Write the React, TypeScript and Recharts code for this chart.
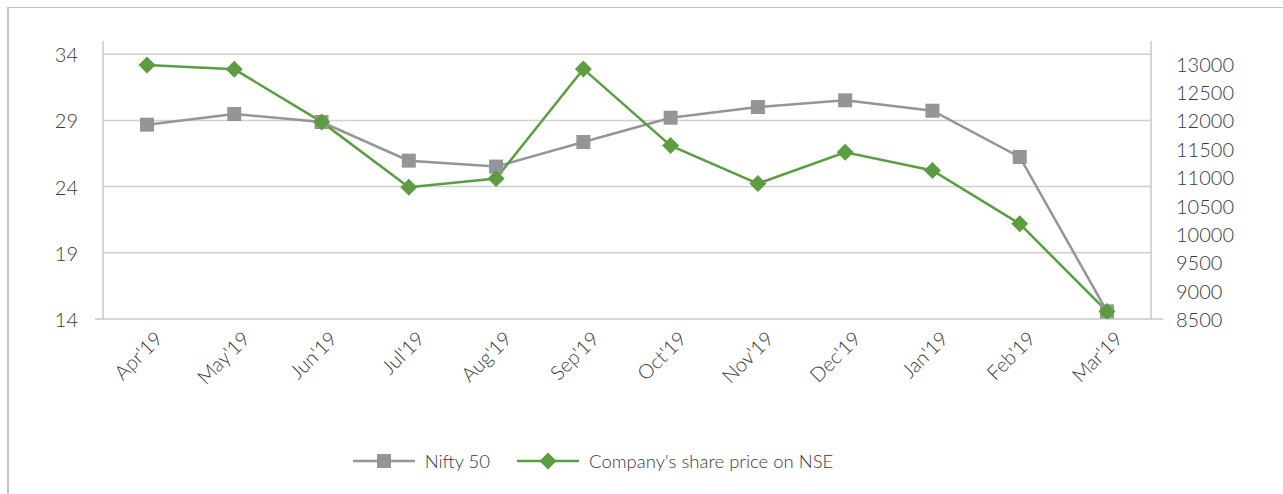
import React from 'react';
import { LineChart, Line, XAxis, YAxis, ReferenceLine, Legend } from 'recharts';

const months = ["Apr'19", "May'19", "Jun'19", "Jul'19", "Aug'19", "Sep'19", "Oct'19", "Nov'19", "Dec'19", "Jan'19", "Feb'19", "Mar'19"];
const nifty50 = [11925, 12113, 11972, 11291, 11186, 11620, 12048, 12236, 12354, 12171, 11356, 8634];
const sharePrice = [33.19, 32.87, 28.89, 23.96, 24.61, 32.89, 27.1, 24.23, 26.6, 25.22, 21.19, 14.57];
const leftTicks = [14, 19, 24, 29, 34];
const rightTicks = [8500, 9000, 9500, 10000, 10500, 11000, 11500, 12000, 12500, 13000];

const data = months.map((month, i) => ({ month, nifty: nifty50[i], price: sharePrice[i] }));

const GRAY = '#939598';
const GREEN = '#5b9d40';
const AXIS = '#c9c9c9';
const TEXT = '#3a3a3a';
const FONT = 'Lato, "Open Sans", sans-serif';

const SquareDot = (props: any) => {
  const { cx, cy } = props;
  if (cx == null || cy == null) return null;
  return <rect x={cx - 7} y={cy - 7} width={14} height={14} fill={GRAY} />;
};

const DiamondDot = (props: any) => {
  const { cx, cy } = props;
  if (cx == null || cy == null) return null;
  const r = 8.5;
  return <path d={`M${cx},${cy - r}L${cx + r},${cy}L${cx},${cy + r}L${cx - r},${cy}Z`} fill={GREEN} />;
};

const MonthTick = (props: any) => {
  const { x, y, payload } = props;
  return (
    <text
      x={x + 17}
      y={y + 21}
      textAnchor="end"
      transform={`rotate(-45 ${x + 17} ${y + 21})`}
      fill={TEXT}
      fontSize={20}
      fontWeight={300}
      fontFamily={FONT}
    >
      {payload.value}
    </text>
  );
};

const LeftTick = (props: any) => {
  const { x, y, payload } = props;
  return (
    <g>
      {payload.value === 14 && <line x1={x + 17} x2={x + 25} y1={y} y2={y} stroke={AXIS} strokeWidth={1.5} />}
      <text x={x} y={y} dy={8} textAnchor="end" fill={TEXT} fontSize={20} fontWeight={300} fontFamily={FONT}>
        {payload.value}
      </text>
    </g>
  );
};

const RightTick = (props: any) => {
  const { x, y, payload } = props;
  return (
    <g>
      {payload.value === 8500 && <line x1={x - 25} x2={x - 13} y1={y} y2={y} stroke={AXIS} strokeWidth={1.5} />}
      <text x={x} y={y} dy={8} textAnchor="start" fill={TEXT} fontSize={20} fontWeight={300} fontFamily={FONT}>
        {payload.value}
      </text>
    </g>
  );
};

const LegendContent = () => (
  <div style={{ height: 75, display: 'flex', justifyContent: 'center', paddingTop: 30, paddingRight: 88, boxSizing: 'border-box', fontFamily: FONT, fontSize: 18.5, fontWeight: 300, color: TEXT }}>
    <div style={{ display: 'flex', alignItems: 'center', height: 24, marginRight: 27 }}>
      <svg width={62} height={20} style={{ marginRight: 10 }}>
        <line x1={0} x2={62} y1={10} y2={10} stroke={GRAY} strokeWidth={2.5} />
        <rect x={24} y={3} width={14} height={14} fill={GRAY} />
      </svg>
      <span>Nifty 50</span>
    </div>
    <div style={{ display: 'flex', alignItems: 'center', height: 24 }}>
      <svg width={62} height={20} style={{ marginRight: 10 }}>
        <line x1={0} x2={62} y1={10} y2={10} stroke={GREEN} strokeWidth={2.5} />
        <path d="M31,1.5L39.5,10L31,18.5L22.5,10Z" fill={GREEN} />
      </svg>
      <span>Company's share price on NSE</span>
    </div>
  </div>
);

export default function App() {
  return (
    <div style={{ position: 'fixed', inset: 0, overflow: 'hidden', background: '#fff' }}>
      <div style={{ position: 'absolute', left: 7, top: 7, width: 1400, height: 600, borderLeft: '2px solid #c4c4c4', borderTop: '1.5px solid #c4c4c4' }} />
      <div style={{ position: 'absolute', left: 0, top: 0 }}>
        <LineChart width={1283} height={494} data={data} margin={{ top: 41, right: 52, left: 43, bottom: 0 }}>
          <XAxis
            dataKey="month"
            height={100}
            interval={0}
            padding={{ left: 44, right: 44 }}
            tick={<MonthTick />}
            tickLine={false}
            tickSize={0}
            tickMargin={0}
            axisLine={false}
          />
          <YAxis
            yAxisId="left"
            width={60}
            domain={[14, 35]}
            ticks={leftTicks}
            allowDataOverflow
            tick={<LeftTick />}
            tickLine={false}
            tickSize={8}
            tickMargin={17}
            axisLine={{ stroke: AXIS, strokeWidth: 1.5 }}
          />
          <YAxis
            yAxisId="right"
            orientation="right"
            width={80}
            domain={[8500, 13400]}
            ticks={rightTicks}
            allowDataOverflow
            tick={<RightTick />}
            tickLine={false}
            tickSize={8}
            tickMargin={17}
            axisLine={{ stroke: AXIS, strokeWidth: 1.5 }}
          />
          {leftTicks.map((v) => (
            <ReferenceLine key={v} yAxisId="left" y={v} stroke={v === 14 ? AXIS : '#d0d0d0'} strokeWidth={1.5} />
          ))}
          <Legend verticalAlign="bottom" content={<LegendContent />} />
          <Line
            yAxisId="right"
            type="linear"
            dataKey="nifty"
            name="Nifty 50"
            stroke={GRAY}
            strokeWidth={2.5}
            dot={<SquareDot />}
            activeDot={false}
            isAnimationActive={false}
          />
          <Line
            yAxisId="left"
            type="linear"
            dataKey="price"
            name="Company's share price on NSE"
            stroke={GREEN}
            strokeWidth={2.5}
            dot={<DiamondDot />}
            activeDot={false}
            isAnimationActive={false}
          />
        </LineChart>
      </div>
    </div>
  );
}
